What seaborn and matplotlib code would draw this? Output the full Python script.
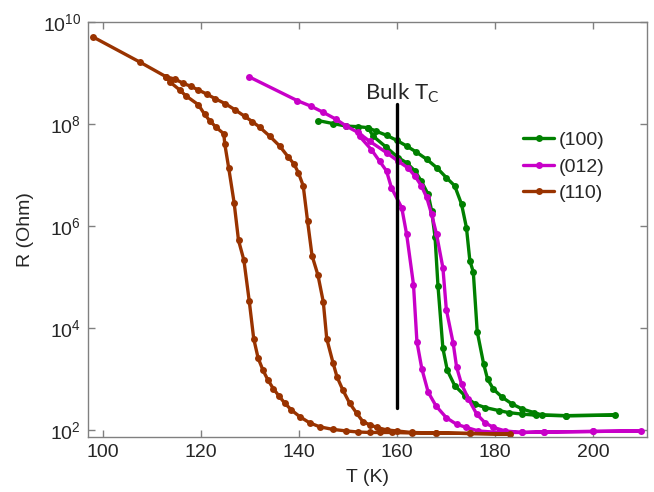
import numpy as np
import pandas as pd
import matplotlib
matplotlib.use("Agg")
import matplotlib.pyplot as plt
import seaborn as sns

# values: T in K, R as log10(Ohm)
# each loop: warming branch out, cooling branch back
green_T = [143.9, 147.0, 149.7, 152.0, 154.1, 155.8, 157.9, 160.0, 162.0, 164.0, 166.1, 168.2,
           170.1, 171.8, 173.2, 174.2, 174.9, 175.6, 176.4, 177.7, 178.5, 179.7, 181.5, 183.5,
           185.6, 188.0, 189.7, 194.6, 204.5,
           194.6, 188.3, 185.6, 182.8, 180.8, 178.0, 175.9, 173.9, 171.8, 170.3, 169.4, 168.4,
           167.8, 167.1, 166.4, 165.0, 163.7, 162.0, 160.3, 157.8, 155.2, 154.1]
green_logR = [8.07, 8.01, 7.96, 7.95, 7.93, 7.86, 7.78, 7.68, 7.57, 7.45, 7.31, 7.14,
              6.95, 6.79, 6.43, 5.97, 5.32, 5.10, 3.93, 3.30, 3.00, 2.80, 2.64, 2.51,
              2.41, 2.34, 2.29, 2.28, 2.29,
              2.28, 2.29, 2.31, 2.34, 2.38, 2.44, 2.51, 2.67, 2.87, 3.17, 3.60, 4.82,
              5.78, 6.30, 6.62, 6.88, 7.08, 7.24, 7.34, 7.55, 7.76, 7.93]

mag_T = [129.8, 139.7, 142.5, 145.0, 147.5, 149.7, 152.0, 154.5, 157.9, 160.3, 162.3, 163.7,
         165.0, 166.1, 167.1, 168.1, 169.4, 170.1, 171.5, 172.2, 173.2, 174.6, 176.3, 178.0,
         179.7, 182.1, 185.6, 190.1, 200.0, 209.9,
         200.0, 190.1, 185.6, 180.8, 176.6, 174.2, 172.2, 170.1, 168.0, 166.4, 165.1, 164.1,
         163.4, 162.0, 161.0, 158.9, 157.9, 156.5, 154.8, 152.4]
mag_logR = [8.93, 8.46, 8.35, 8.23, 8.10, 7.96, 7.84, 7.66, 7.44, 7.27, 7.14, 6.98,
            6.79, 6.56, 6.23, 5.84, 5.18, 4.36, 3.70, 3.23, 2.90, 2.61, 2.31, 2.14,
            2.05, 1.98, 1.95, 1.96, 1.97, 1.98,
            1.97, 1.96, 1.95, 1.95, 1.98, 2.05, 2.11, 2.24, 2.47, 2.74, 3.20, 3.73,
            4.85, 5.84, 6.36, 6.75, 7.08, 7.27, 7.50, 7.76]

brown_T = [98.0, 107.7, 112.9, 114.8, 116.4, 118.0, 119.5, 121.2, 122.9, 125.0, 127.0, 129.0,
           130.5, 132.0, 134.1, 136.1, 137.8, 139.0, 139.9, 140.9, 141.8, 142.7, 143.9, 145.0,
           145.7, 147.0, 147.8, 149.0, 150.4, 151.8, 153.1, 154.5, 155.9, 157.9, 160.0, 163.0,
           168.0, 175.0, 183.1,
           175.0, 168.0, 163.0, 159.0, 156.5, 154.5, 152.0, 149.7, 147.0, 144.3, 142.2, 140.2,
           138.5, 137.1, 136.0, 134.8, 133.7, 132.7, 131.7, 130.8, 129.9, 128.8, 127.7, 126.8,
           125.7, 124.9, 124.7, 123.1, 121.8, 120.8, 119.5, 116.9, 115.7, 113.8, 112.9]
brown_logR = [9.71, 9.21, 8.93, 8.88, 8.80, 8.74, 8.67, 8.59, 8.50, 8.40, 8.28, 8.15,
              8.05, 7.94, 7.76, 7.57, 7.36, 7.22, 7.05, 6.79, 6.09, 5.42, 5.04, 4.51,
              3.79, 3.31, 3.04, 2.78, 2.52, 2.33, 2.16, 2.10, 2.05, 2.00, 1.98, 1.95,
              1.94, 1.93, 1.92,
              1.93, 1.94, 1.94, 1.95, 1.95, 1.95, 1.96, 1.98, 2.01, 2.06, 2.14, 2.26,
              2.39, 2.53, 2.66, 2.81, 2.98, 3.17, 3.41, 3.79, 4.52, 5.33, 5.72, 6.46,
              7.14, 7.61, 7.81, 7.94, 8.07, 8.19, 8.38, 8.56, 8.67, 8.82, 8.93]

labels = ["(100)", "(012)", "(110)"]
colors = ["#008000", "#C800C8", "#993300"]

# bulk Tc marker line
tc_T = 160
tc_R = [265, 2.5e8]

frames = []
for lab, t, lr in zip(labels, [green_T, mag_T, brown_T], [green_logR, mag_logR, brown_logR]):
    frames.append(pd.DataFrame({"T": t, "R": np.power(10.0, lr), "orient": lab}))
df = pd.concat(frames, ignore_index=True)

sns.set_theme(style="ticks")
plt.rcParams["font.family"] = ["Liberation Sans", "DejaVu Sans"]

fig = plt.figure(figsize=(6.54, 4.92), dpi=100)
ax = fig.add_axes([0.1346, 0.112, 0.8544, 0.843])

sns.lineplot(data=df, x="T", y="R", hue="orient", hue_order=labels, palette=colors,
             sort=False, estimator=None, marker="o", markersize=5, markeredgewidth=0,
             linewidth=2.4, ax=ax)

ax.plot([tc_T, tc_T], tc_R, color="black", linewidth=2.4)
ax.text(tc_T + 1.0, 2.4e8, "Bulk T$_\\mathregular{C}$", ha="center", va="bottom",
        fontsize=16, family=["Lato", "DejaVu Sans"])

ax.set_yscale("log")
ax.set_xlim(97, 211)
ax.set_ylim(73, 1e10)
ax.set_xticks([100, 120, 140, 160, 180, 200])
ax.set_yticks([1e2, 1e4, 1e6, 1e8, 1e10])
ax.yaxis.set_minor_locator(matplotlib.ticker.NullLocator())
ax.set_xlabel("T (K)", fontsize=14, labelpad=6)
ax.set_ylabel("R (Ohm)", fontsize=14, labelpad=6)
ax.tick_params(direction="in", length=5, width=1, color="#808080", labelsize=14,
               top=True, right=True, pad=5)
for s in ax.spines.values():
    s.set_color("#808080")
    s.set_linewidth(1)

handles, _ = ax.get_legend_handles_labels()
ax.legend(handles=handles[:3], labels=labels, frameon=False, fontsize=14,
          loc="upper left", bbox_to_anchor=(0.765, 0.755), handlelength=1.6,
          handletextpad=0.2, labelspacing=0.45, borderaxespad=0)

fig.savefig("out.png", dpi=100)
